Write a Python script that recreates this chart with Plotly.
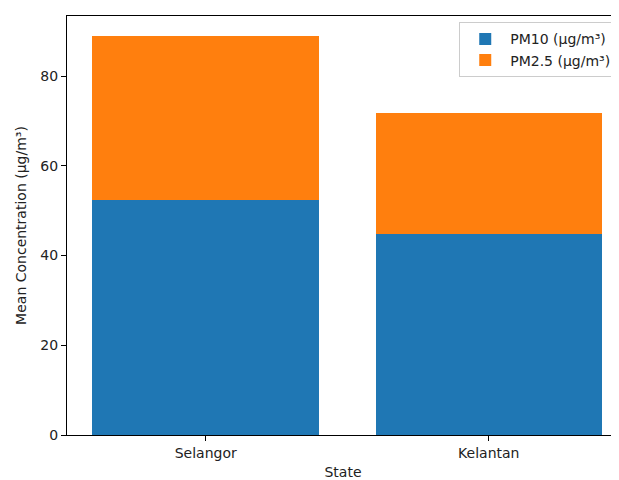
import plotly.graph_objects as go

states = ["Selangor", "Kelantan"]
pm10 = [52.3, 44.8]
pm25 = [36.6, 27.0]

fig = go.Figure()
fig.add_trace(go.Bar(x=states, y=pm10, name="PM10 (µg/m³)", marker=dict(color="#1f77b4", line=dict(width=0))))
fig.add_trace(go.Bar(x=states, y=pm25, name="PM2.5 (µg/m³)", marker=dict(color="#ff7f0e", line=dict(width=0))))

font = dict(family="DejaVu Sans", size=14, color="#222")
fig.update_layout(
    width=611, height=472,
    barmode="stack", bargap=0.2,
    plot_bgcolor="white", paper_bgcolor="white",
    margin=dict(l=59, r=0, t=8, b=45, autoexpand=False),
    font=font,
    showlegend=True,
    legend=dict(x=0.995, y=0.985, xanchor="right", yanchor="top",
                bordercolor="#cccccc", borderwidth=1, bgcolor="rgba(255,255,255,0.8)",
                font=dict(family="DejaVu Sans", size=14, color="#222"), traceorder="normal",
                itemwidth=40),
    xaxis=dict(range=[-0.49, 1.46], showline=True, linecolor="black", linewidth=1, mirror=True,
               ticks="outside", ticklen=5, tickcolor="black", showgrid=False, zeroline=False,
               title=dict(text="State", font=font, standoff=9)),
    yaxis=dict(range=[0, 93.37], showline=True, linecolor="black", linewidth=1,
               ticks="outside", ticklen=5, tickcolor="black", showgrid=False, zeroline=False,
               tickvals=[0, 20, 40, 60, 80],
               title=dict(text="Mean Concentration (µg/m³)", font=font, standoff=10)),
)
fig.write_html("out.html")
